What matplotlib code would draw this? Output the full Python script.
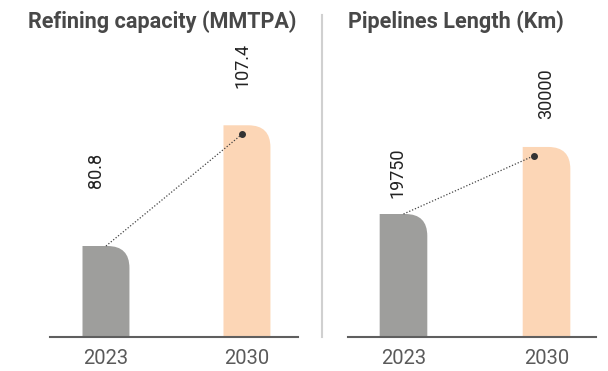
import matplotlib.pyplot as plt
from matplotlib.path import Path
from matplotlib.patches import PathPatch

plt.rcParams['font.family'] = ['Roboto', 'DejaVu Sans']

# Dados
years = ['2023', '2030']
refining = [80.8, 107.4]
refining_labels = ['80.8', '107.4']
pipelines = [19750, 30000]
pipelines_labels = ['19750', '30000']

GRAY = '#9e9e9c'
PEACH = '#fcd6b6'

fig = plt.figure(figsize=(6.08, 3.71), dpi=100)


def rounded_bar(ax, x, h, w, base, color, r_px=22):
    # converte o raio em pixels para unidades de dados
    inv = ax.transData.inverted()
    p0 = inv.transform(ax.transData.transform((x, h)))
    p1 = inv.transform(ax.transData.transform((x, h)) + [r_px, r_px])
    rx, ry = p1 - p0
    x0, x1 = x - w / 2, x + w / 2
    verts = [(x0, base), (x0, h), (x1 - rx, h), (x1, h), (x1, h - ry), (x1, base), (x0, base)]
    codes = [Path.MOVETO, Path.LINETO, Path.LINETO, Path.CURVE3, Path.CURVE3, Path.LINETO, Path.CLOSEPOLY]
    ax.add_patch(PathPatch(Path(verts, codes), facecolor=color, edgecolor='none', zorder=2))


def panel(rect, values, labels, ylim, xlim, dot_dx, label_off):
    ax = fig.add_axes(rect)
    ax.set_xlim(*xlim)
    ax.set_ylim(*ylim)
    for s in ['top', 'right', 'left']:
        ax.spines[s].set_visible(False)
    ax.spines['bottom'].set_color('#5f5f5f')
    ax.spines['bottom'].set_linewidth(1.5)
    ax.set_yticks([])
    ax.set_xticks([0, 1])
    ax.set_xticklabels(years, fontsize=14.5, color='#5a5a5a')
    ax.tick_params(axis='x', length=0, pad=9)

    for i, (v, c) in enumerate(zip(values, [GRAY, PEACH])):
        rounded_bar(ax, i, v, 0.333, ylim[0], c)

    # linha pontilhada e ponto
    inv = ax.transData.inverted()
    top_px = ax.transData.transform((1, values[1]))
    end = inv.transform(top_px + [dot_dx, -9])
    ax.plot([0, end[0]], [values[0], end[1]], linestyle=(0, (1, 1.5)), color='#444444',
            linewidth=0.9, zorder=3)
    ax.plot(end[0], end[1], 'o', color='#333333', markersize=4, zorder=4)

    for i, (v, lab) in enumerate(zip(values, labels)):
        dx, dy = label_off[i]
        ax.annotate(lab, (i, v), xytext=(dx * 0.72, dy * 0.72), textcoords='offset points',
                    rotation=90, ha='center', va='bottom', fontsize=13, color='#222222')
    return ax


panel([50 / 608, 34 / 371, 248 / 608, 322 / 371], refining, refining_labels,
      (60.75, 131.7), (-0.397, 1.362), -5, [(-10, 58), (-4, 37)])
panel([348 / 608, 34 / 371, 248 / 608, 322 / 371], pipelines, pipelines_labels,
      (943, 50178), (-0.388, 1.346), -13, [(-6, 16), (0, 28)])

fig.text(28 / 608, 1 - 22 / 371, 'Refining capacity (MMTPA)', fontsize=15.6, fontweight='bold',
         color='#484848', ha='left', va='center')
fig.text(348 / 608, 1 - 22 / 371, 'Pipelines Length (Km)', fontsize=15.6, fontweight='bold',
         color='#484848', ha='left', va='center')

# separador vertical
fig.add_artist(plt.Line2D([322 / 608, 322 / 608], [34 / 371, 1 - 15 / 371],
                          color='#d0d0d0', linewidth=1.5))

plt.savefig('out.png', dpi=100)
